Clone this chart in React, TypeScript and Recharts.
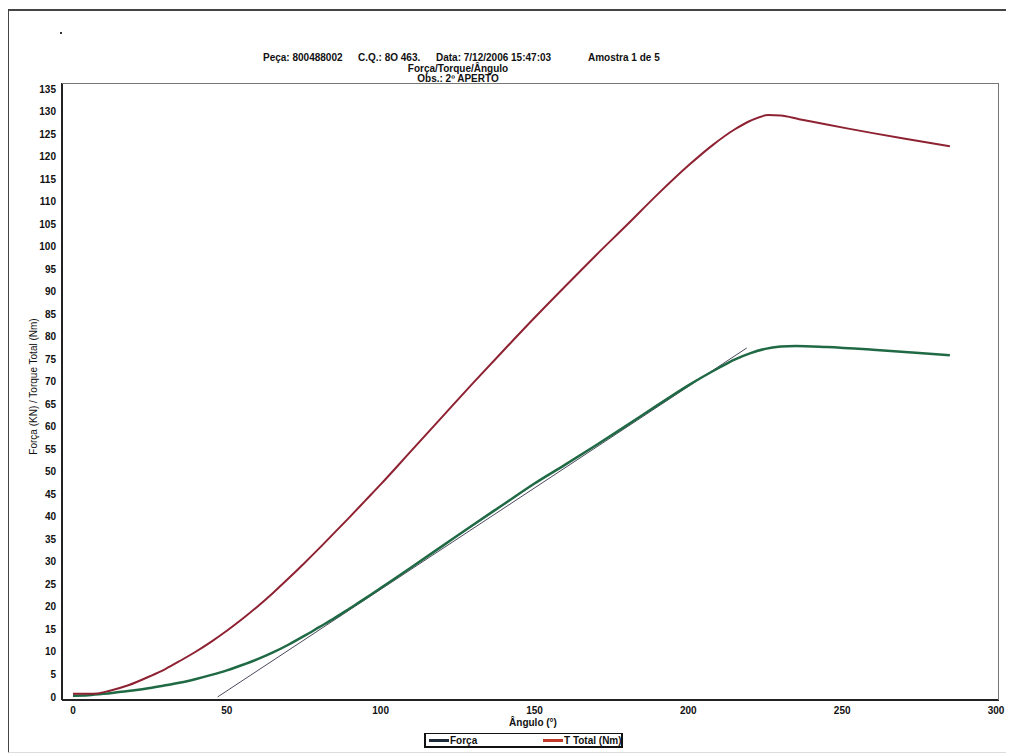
import React from "react";
import { LineChart, Line, XAxis, YAxis } from "recharts";

// Ângulo (°)
const anguloTorque = [0, 5, 8, 12, 18, 25, 30, 35, 40, 45, 50, 55, 60, 65, 70, 75, 80, 85, 90, 95, 100, 110, 120, 130, 140, 150, 160, 170, 180, 190, 200, 208, 215, 220, 226, 230, 236, 245, 252, 260, 270, 285];
const torqueTotal = [0.7, 0.7, 0.8, 1.4, 2.6, 4.6, 6.2, 8.1, 10.1, 12.3, 14.7, 17.3, 20.1, 23.1, 26.3, 29.6, 33, 36.5, 40, 43.6, 47.2, 54.7, 62.2, 69.7, 77, 84.2, 91.2, 98.1, 104.8, 111.6, 118, 122.6, 126, 127.9, 129.2, 129.1, 128.3, 127.1, 126.2, 125.2, 124, 122.3];

const anguloForca = [0, 5, 10, 15, 20, 25, 30, 35, 40, 45, 50, 55, 60, 65, 70, 75, 80, 85, 90, 95, 100, 110, 120, 130, 140, 150, 160, 170, 180, 190, 200, 210, 215, 220, 225, 230, 235, 245, 260, 275, 285];
const forca = [0.3, 0.4, 0.7, 1.1, 1.5, 2, 2.6, 3.2, 4, 4.9, 5.9, 7.1, 8.4, 9.9, 11.6, 13.5, 15.5, 17.5, 19.7, 21.9, 24.2, 28.8, 33.5, 38.2, 42.8, 47.4, 51.6, 55.9, 60.3, 64.8, 69.2, 73.1, 74.9, 76.3, 77.3, 77.8, 77.95, 77.7, 77.1, 76.4, 75.9];

// reta tangente (cinza)
const anguloReta = [47, 219];
const reta = [0, 77.5];

const yTicks = [0, 5, 10, 15, 20, 25, 30, 35, 40, 45, 50, 55, 60, 65, 70, 75, 80, 85, 90, 95, 100, 105, 110, 115, 120, 125, 130, 135];
const xTicks = [0, 50, 100, 150, 200, 250, 300];

const torqueData = anguloTorque.map((a, i) => ({ angulo: a, valor: torqueTotal[i] }));
const forcaData = anguloForca.map((a, i) => ({ angulo: a, valor: forca[i] }));
const retaData = anguloReta.map((a, i) => ({ angulo: a, valor: reta[i] }));

const FONT = "'Liberation Sans', Arial, sans-serif";
const txt: React.CSSProperties = {
  position: "absolute",
  fontFamily: FONT,
  fontSize: 10,
  fontWeight: "bold",
  color: "#111",
  whiteSpace: "nowrap",
  lineHeight: "11px",
};

// coordenadas relativas ao contêiner (página - 8)
export default function App() {
  return (
    <div style={{ position: "relative", width: 1006, height: 748, background: "#fff" }}>
      {/* moldura externa */}
      <div
        style={{
          position: "absolute",
          left: -1,
          top: 1,
          width: 1006,
          height: 744,
          borderLeft: "2px solid #444",
          borderTop: "2px solid #444",
          borderRight: "1px solid #ddd",
          borderBottom: "1px solid #ddd",
          boxSizing: "border-box",
          zIndex: 2,
          pointerEvents: "none",
        }}
      />
      <div style={{ position: "absolute", left: 52, top: 24, width: 2, height: 2, background: "#333" }} />

      {/* título */}
      <div style={{ ...txt, left: 255, top: 44 }}>Peça: 800488002</div>
      <div style={{ ...txt, left: 350, top: 44 }}>C.Q.: 8O 463.</div>
      <div style={{ ...txt, left: 428, top: 44 }}>Data: 7/12/2006 15:47:03</div>
      <div style={{ ...txt, left: 580, top: 44 }}>Amostra 1 de 5</div>
      <div style={{ ...txt, left: 350, width: 200, textAlign: "center", top: 55 }}>Força/Torque/Ângulo</div>
      <div style={{ ...txt, left: 350, width: 200, textAlign: "center", top: 65 }}>Obs.: 2º APERTO</div>

      <LineChart width={1006} height={748} margin={{ top: 75, right: 15, bottom: 36, left: 24 }}>
        <XAxis
          dataKey="angulo"
          type="number"
          domain={[-3.57, 300.97]}
          ticks={xTicks}
          allowDataOverflow
          tickLine={false}
          tickSize={5}
          tickMargin={2}
          height={20}
          axisLine={{ stroke: "#222", strokeWidth: 2 }}
          tick={{ fill: "#111", fontSize: 10, fontWeight: "bold", fontFamily: FONT }}
        />
        <YAxis
          type="number"
          domain={[-0.67, 136.33]}
          ticks={yTicks}
          allowDataOverflow
          interval={0}
          width={30}
          tickLine={false}
          tickSize={4}
          tickMargin={2}
          axisLine={{ stroke: "#222", strokeWidth: 2 }}
          tick={{ fill: "#111", fontSize: 10, fontWeight: "bold", fontFamily: FONT }}
        />
        <Line
          data={retaData}
          dataKey="valor"
          type="linear"
          stroke="#4a4a5e"
          strokeWidth={1}
          dot={false}
          isAnimationActive={false}
        />
        <Line
          data={forcaData}
          dataKey="valor"
          type="monotone"
          stroke="#1f6a45"
          strokeWidth={2.5}
          dot={false}
          isAnimationActive={false}
        />
        <Line
          data={torqueData}
          dataKey="valor"
          type="monotone"
          stroke="#8e2232"
          strokeWidth={2}
          dot={false}
          isAnimationActive={false}
        />
      </LineChart>

      {/* topo e direita da área do gráfico */}
      <div
        style={{
          position: "absolute",
          left: 54,
          top: 75,
          width: 937,
          height: 617,
          borderTop: "1px solid #777",
          borderRight: "1px solid #777",
          boxSizing: "border-box",
          pointerEvents: "none",
        }}
      />

      {/* rótulos dos eixos */}
      <div style={{ ...txt, left: 425, width: 200, textAlign: "center", top: 709 }}>Ângulo (°)</div>
      <div
        style={{
          ...txt,
          fontSize: 10,
          fontWeight: "normal",
          left: 25 - 100,
          top: 379 - 6,
          width: 200,
          textAlign: "center",
          transform: "rotate(-90deg)",
        }}
      >
        Força (KN) / Torque Total (Nm)
      </div>

      {/* legenda */}
      <div
        style={{
          position: "absolute",
          left: 416,
          top: 725,
          width: 199,
          height: 15,
          border: "2px solid #111",
          borderTopWidth: 1,
          boxSizing: "border-box",
        }}
      >
        <div style={{ position: "absolute", left: 3, top: 5, width: 20, height: 3, background: "#1e2a3a" }} />
        <div style={{ ...txt, left: 24, top: 1 }}>Força</div>
        <div style={{ position: "absolute", left: 117, top: 5, width: 20, height: 3, background: "#c0392b" }} />
        <div style={{ ...txt, left: 138, top: 1 }}>T Total (Nm)</div>
      </div>
    </div>
  );
}
